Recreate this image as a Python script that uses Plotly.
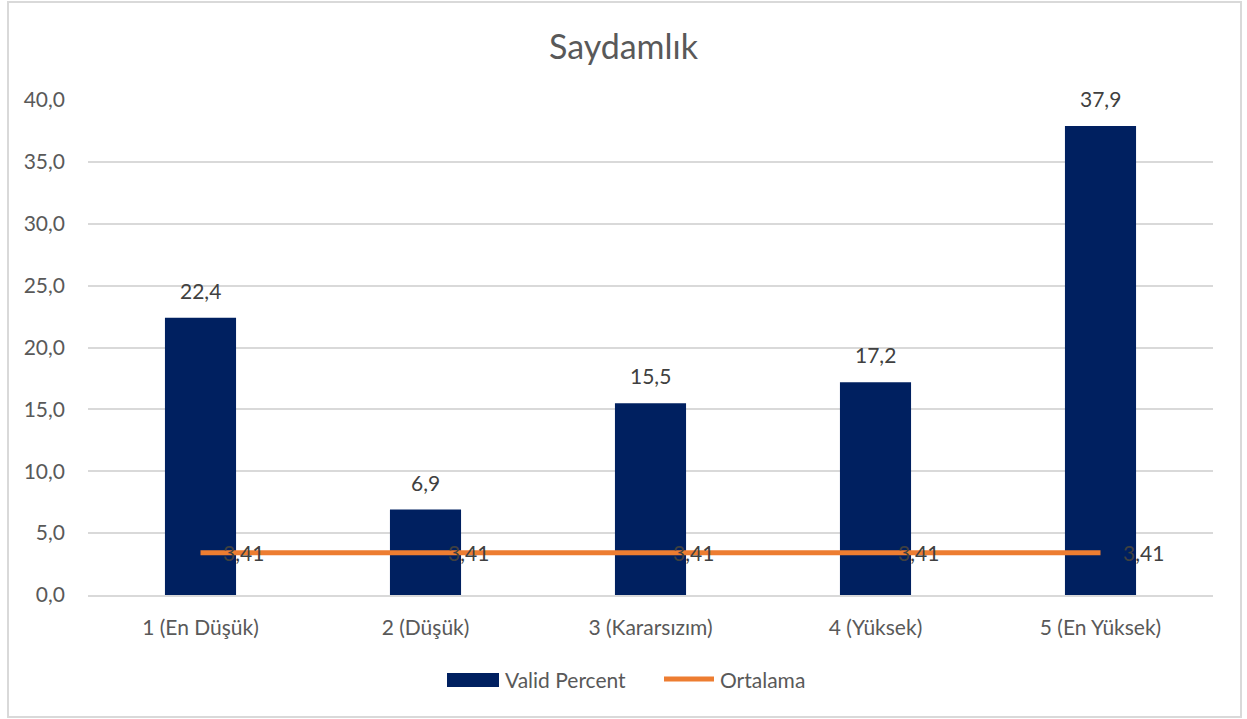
import plotly.graph_objects as go

kategoriler = ["1 (En Düşük)", "2 (Düşük)", "3 (Kararsızım)", "4 (Yüksek)", "5 (En Yüksek)"]
valid_percent = [22.4, 6.9, 15.5, 17.2, 37.9]
ortalama = [3.41, 3.41, 3.41, 3.41, 3.41]
y_ticks = [0, 5, 10, 15, 20, 25, 30, 35, 40]

FONT = "Lato"
NAVY = "#002060"
ORANGE = "#ED7D31"
GRAY = "#595959"

L, R, T, B = 88, 1213, 100, 595


def px_x(p):
    return (p - L) / (R - L)


def px_y(p):
    return (B - p) / (B - T)


fig = go.Figure()
fig.add_trace(go.Bar(x=kategoriler, y=valid_percent, name="Valid Percent", showlegend=False,
                     marker=dict(color=NAVY, line=dict(width=0)), width=0.316))
fig.add_trace(go.Scatter(x=kategoriler, y=ortalama, name="Ortalama", mode="lines", showlegend=False,
                         line=dict(color=ORANGE, width=5)))

# veri etiketleri
for k, v in zip(kategoriler, valid_percent):
    fig.add_annotation(x=k, y=v, text=f"{v:.1f}".replace(".", ","), showarrow=False,
                       yanchor="bottom", yshift=13, font=dict(size=21, color="#404040", family=FONT))
for k, v in zip(kategoriler, ortalama):
    fig.add_annotation(x=k, y=v, text=f"{v:.2f}".replace(".", ","), showarrow=False,
                       xanchor="left", xshift=20, yanchor="middle",
                       font=dict(size=21, color="#404040", family=FONT))

# dis cerceve
fig.add_shape(type="rect", xref="paper", yref="paper",
              x0=px_x(8), x1=px_x(1241), y0=px_y(717), y1=px_y(2),
              line=dict(color="#D9D9D9", width=2), layer="below")

# lejant (Excel tarzi)
fig.add_shape(type="rect", xref="paper", yref="paper",
              x0=px_x(447), x1=px_x(499), y0=px_y(687), y1=px_y(673),
              fillcolor=NAVY, line=dict(width=0))
fig.add_annotation(xref="paper", yref="paper", x=px_x(503), y=px_y(679), text="Valid Percent",
                   showarrow=False, xanchor="left", yanchor="middle",
                   font=dict(size=21, color=GRAY, family=FONT))
fig.add_shape(type="line", xref="paper", yref="paper",
              x0=px_x(664), x1=px_x(714), y0=px_y(679), y1=px_y(679),
              line=dict(color=ORANGE, width=5))
fig.add_annotation(xref="paper", yref="paper", x=px_x(718), y=px_y(679), text="Ortalama",
                   showarrow=False, xanchor="left", yanchor="middle",
                   font=dict(size=21, color=GRAY, family=FONT))

fig.update_layout(
    width=1247, height=719,
    margin=dict(l=L, r=1247 - R, t=T, b=719 - B),
    paper_bgcolor="white", plot_bgcolor="white",
    font=dict(family=FONT, size=21, color=GRAY),
    title=dict(text="Saydamlık", x=0.5, xanchor="center", y=1 - 47 / 719, yanchor="middle",
               font=dict(size=34, color=GRAY, family=FONT)),
    bargap=0.684,
    showlegend=False,
)
fig.update_yaxes(range=[0, 40], tickvals=y_ticks,
                 ticktext=[f"{t:.1f}".replace(".", ",") for t in y_ticks],
                 showgrid=True, gridcolor="#D9D9D9", gridwidth=2, zeroline=False,
                 showline=False, ticks="", ticklabelstandoff=22,
                 tickfont=dict(size=21, color=GRAY, family=FONT))
fig.update_xaxes(showline=True, linecolor="#D9D9D9", linewidth=2, ticks="",
                 tickfont=dict(size=21, color=GRAY, family=FONT), ticklabelstandoff=13)

fig.write_html("out.html", config={"displayModeBar": False},
               post_script="document.body.style.margin='0';")
